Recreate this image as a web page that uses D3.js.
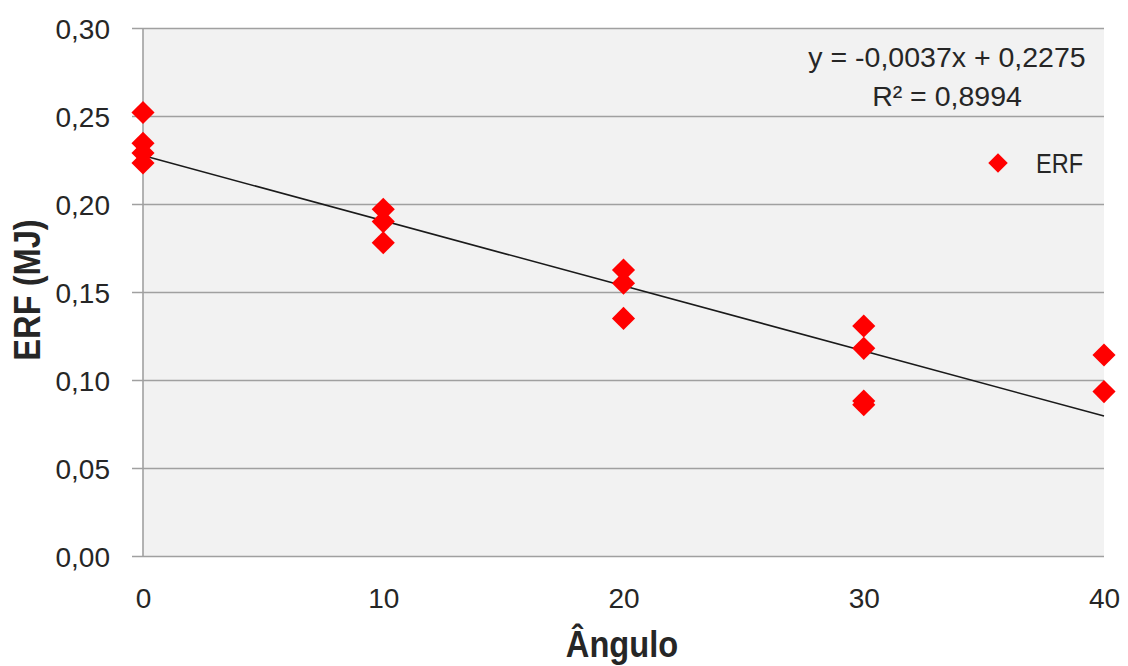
<!DOCTYPE html>
<html>
<head>
<meta charset="utf-8">
<script src="https://cdn.jsdelivr.net/npm/d3@7"></script>
<style>
  html, body { margin: 0; padding: 0; background: #ffffff; }
  svg { display: block; }
  text { font-family: "Liberation Sans", Arial, sans-serif; fill: #262626; }
</style>
</head>
<body>
<svg id="chart" width="1128" height="666"></svg>
<script>
// ---- data ----
const angles = [0, 0, 0, 0, 10, 10, 10, 20, 20, 20, 30, 30, 30, 30, 40, 40];
const erfValues = [0.252, 0.2345, 0.229, 0.2233, 0.197, 0.190, 0.178, 0.1625, 0.155, 0.135, 0.1307, 0.118, 0.088, 0.086, 0.1142, 0.0934];
const xTicks = [0, 10, 20, 30, 40];
const yTicks = [0, 0.05, 0.10, 0.15, 0.20, 0.25, 0.30];
const trendSlope = -0.0037;
const trendIntercept = 0.2275;
const equationLabel = "y = -0,0037x + 0,2275";
const r2Label = "R² = 0,8994";
const seriesName = "ERF";
const xTitle = "Ângulo";
const yTitle = "ERF (MJ)";

const svg = d3.select("#chart");
const pLeft = 143, pRight = 1104, pTop = 28, pBottom = 556;

const x = d3.scaleLinear().domain([0, 40]).range([pLeft, pRight]);
const y = d3.scaleLinear().domain([0, 0.30]).range([pBottom, pTop]);
const fmt = v => d3.format(".2f")(v).replace(".", ",");

// plot background
svg.append("rect").attr("x", pLeft).attr("y", pTop)
  .attr("width", pRight - pLeft).attr("height", pBottom - pTop)
  .attr("fill", "#f2f2f2");

// gridlines
const gy = svg.append("g").attr("transform", `translate(${pRight},0)`)
  .call(d3.axisRight(y).tickValues(yTicks).tickFormat("").tickSize(-(pRight - pLeft) - 11));
gy.select(".domain").remove();
gy.selectAll(".tick line").attr("stroke", "#a0a0a0").attr("stroke-width", 1.6);

// y tick labels
const gyl = svg.append("g").attr("transform", `translate(${pLeft - 11},0)`)
  .call(d3.axisLeft(y).tickValues(yTicks).tickFormat(fmt).tickSize(0).tickPadding(22));
gyl.select(".domain").remove();
gyl.selectAll(".tick text")
  .attr("font-family", "'Liberation Sans', Arial, sans-serif")
  .attr("font-size", 28).attr("fill", "#262626").attr("dy", "0.36em");

// vertical axis line
svg.append("line").attr("x1", pLeft).attr("x2", pLeft).attr("y1", pTop).attr("y2", pBottom)
  .attr("stroke", "#a0a0a0").attr("stroke-width", 1.6);

// x axis labels
const gx = svg.append("g").attr("transform", `translate(0,${pBottom})`)
  .call(d3.axisBottom(x).tickValues(xTicks).tickFormat(d3.format("d")).tickSize(0).tickPadding(32));
gx.select(".domain").remove();
gx.selectAll(".tick text")
  .attr("font-family", "'Liberation Sans', Arial, sans-serif")
  .attr("font-size", 28).attr("fill", "#262626");

// trend line
svg.append("line")
  .attr("x1", x(0)).attr("y1", y(trendIntercept))
  .attr("x2", x(40)).attr("y2", y(trendIntercept + trendSlope * 40))
  .attr("stroke", "#1a1a1a").attr("stroke-width", 1.6);

// points
const pts = angles.map((a, i) => ({ a, v: erfValues[i] }));
const diamond = d3.symbol().type(d3.symbolSquare).size(268);
svg.append("g").selectAll("path").data(pts).join("path")
  .attr("d", diamond)
  .attr("transform", d => `translate(${x(d.a)},${y(d.v)}) rotate(45)`)
  .attr("fill", "#ff0000");

// equation
svg.append("text").attr("x", 947).attr("y", 67).attr("text-anchor", "middle")
  .attr("font-size", 28.5).text(equationLabel);
svg.append("text").attr("x", 947).attr("y", 106).attr("text-anchor", "middle")
  .attr("font-size", 28.5).text(r2Label);

// legend
svg.append("path").attr("d", d3.symbol().type(d3.symbolSquare).size(190))
  .attr("transform", "translate(998,163) rotate(45)").attr("fill", "#ff0000");
svg.append("text").attr("transform", "translate(1036,173) scale(0.84,1)")
  .attr("font-size", 28).text(seriesName);

// axis titles
svg.append("text").attr("transform", "translate(622,657) scale(0.87,1)")
  .attr("text-anchor", "middle").attr("font-weight", "bold").attr("font-size", 37.5)
  .attr("fill", "#000").text(xTitle);
svg.append("text").attr("transform", "translate(40,290) rotate(-90) scale(0.87,1)")
  .attr("text-anchor", "middle").attr("font-weight", "bold").attr("font-size", 37.5)
  .attr("fill", "#000").text(yTitle);
</script>
</body>
</html>
